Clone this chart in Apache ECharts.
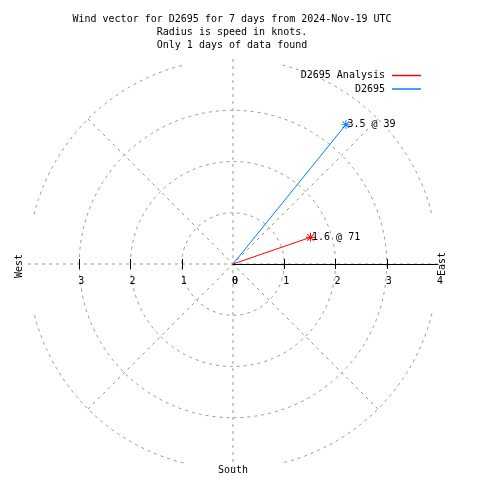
<!DOCTYPE html>
<html>
<head>
<meta charset="utf-8">
<script src="https://cdn.jsdelivr.net/npm/echarts@6/dist/echarts.min.js"></script>
<style>
html,body{margin:0;padding:0;background:#fff;}
#chart{width:480px;height:480px;}
</style>
</head>
<body>
<div id="chart"></div>
<script>
// ---- data ----
const titleLines = [
  'Wind vector for D2695 for 7 days from 2024-Nov-19 UTC',
  'Radius is speed in knots.',
  'Only 1 days of data found'
];
const seriesNames = ['D2695 Analysis', 'D2695'];
const seriesColors = ['#ff0000', '#0080ff'];
const speeds = [1.6, 3.5];        // knots
const directions = [71, 39];      // degrees from north, clockwise
const eastTickValues = [1, 2, 3];
const eastLabelValues = [0, 1, 2, 3, 4];
const westTickValues = [-3, -2, -1];
const westLabelValues = [-3, -2, -1, 0];
const compassLabels = { west: 'West', east: 'East', south: 'South' };

// ---- layout ----
const CX = 233, CY = 264, R = 205;
const FONT = 'DejaVu Sans Mono';
const gridColor = '#999999';
const dash = [3, 4];
const star = 'path://M0,4.5H10V5.5H0Z M4.5,0H5.5V10H4.5Z M1,1.7L1.7,1L9,8.3L8.3,9Z M9,1.7L1.7,9L1,8.3L8.3,1Z';

const series = seriesNames.map((name, i) => ({
  name: name,
  type: 'line',
  coordinateSystem: 'polar',
  polarIndex: 0,
  color: seriesColors[i],
  lineStyle: { width: 1, color: seriesColors[i] },
  symbol: star,
  symbolSize: 9,
  showSymbol: true,
  itemStyle: { color: seriesColors[i] },
  z: 5,
  data: [
    { value: [0, directions[i]], symbol: 'none', label: { show: false } },
    {
      value: [speeds[i], directions[i]],
      label: {
        show: true,
        position: 'right',
        distance: -3,
        formatter: speeds[i] + ' @ ' + directions[i],
        fontFamily: FONT,
        fontSize: 10,
        color: '#000'
      }
    }
  ]
}));

// outer ring drawn as partial arcs (gnuplot clips it near the axes)
const outerArcs = [0, 1, 2, 3].map(k => ({
  type: 'arc',
  silent: true,
  z: 1,
  shape: { cx: CX, cy: CY, r: R, startAngle: (k * 90 + 14) * Math.PI / 180, endAngle: (k * 90 + 76) * Math.PI / 180, clockwise: true },
  style: { stroke: gridColor, lineWidth: 1, lineDash: dash, fill: null }
}));

const chart = echarts.init(document.getElementById('chart'), null, { renderer: 'canvas' });
chart.setOption({
  animation: false,
  backgroundColor: '#fff',
  title: {
    text: titleLines.join('\n'),
    left: 232,
    top: 13,
    textAlign: 'center',
    padding: 0,
    textStyle: { fontFamily: FONT, fontSize: 10, fontWeight: 'normal', color: '#000', lineHeight: 13 }
  },
  legend: {
    data: seriesNames,
    orient: 'vertical',
    right: 59,
    top: 69,
    align: 'right',
    icon: 'rect',
    itemWidth: 29,
    itemHeight: 1.5,
    itemGap: 0.5,
    padding: 0,
    selectedMode: false,
    textStyle: { fontFamily: FONT, fontSize: 10, color: '#000', lineHeight: 13, padding: [0, 2, 0, 0] }
  },
  polar: { center: [CX, CY], radius: R },
  angleAxis: {
    type: 'value',
    min: 0, max: 360, interval: 45,
    startAngle: 90,
    clockwise: true,
    axisLine: { show: false },
    axisTick: { show: false },
    axisLabel: { show: false },
    splitLine: { show: true, lineStyle: { color: gridColor, type: dash, width: 1 } }
  },
  radiusAxis: {
    type: 'value',
    min: 0, max: 4, interval: 1,
    axisLine: { show: false },
    axisTick: { show: false },
    axisLabel: { show: false },
    splitLine: { show: true, lineStyle: { color: [gridColor, gridColor, gridColor, gridColor, 'rgba(0,0,0,0)'], type: dash, width: 1 } }
  },
  grid: [
    { left: CX, width: R, top: CY, height: 0, containLabel: false },
    { left: CX - R, width: R, top: CY, height: 0, containLabel: false }
  ],
  xAxis: [
    {
      gridIndex: 0, type: 'value', min: 0, max: 4, position: 'bottom', z: 6,
      axisLine: { show: true, lineStyle: { color: '#000', width: 1 } },
      axisTick: { show: true, length: 5, customValues: eastTickValues, lineStyle: { color: '#000' } },
      axisLabel: { show: true, customValues: eastLabelValues, margin: 12, fontFamily: FONT, fontSize: 10, color: '#000', padding: [0, 0, 0, 4] },
      splitLine: { show: false }
    },
    {
      gridIndex: 0, type: 'value', min: 0, max: 4, position: 'top', z: 6,
      axisLine: { show: false },
      axisTick: { show: true, length: 5, customValues: eastTickValues, lineStyle: { color: '#000' } },
      axisLabel: { show: false },
      splitLine: { show: false }
    },
    {
      gridIndex: 1, type: 'value', min: -4, max: 0, position: 'bottom', z: 6,
      axisLine: { show: false },
      axisTick: { show: true, length: 5, customValues: westTickValues, lineStyle: { color: '#000' } },
      axisLabel: { show: true, customValues: westLabelValues, margin: 12, fontFamily: FONT, fontSize: 10, color: '#000', padding: [0, 0, 0, 4], formatter: v => String(Math.abs(v)) },
      splitLine: { show: false }
    },
    {
      gridIndex: 1, type: 'value', min: -4, max: 0, position: 'top', z: 6,
      axisLine: { show: false },
      axisTick: { show: true, length: 5, customValues: westTickValues, lineStyle: { color: '#000' } },
      axisLabel: { show: false },
      splitLine: { show: false }
    }
  ],
  yAxis: [
    { gridIndex: 0, type: 'value', show: false },
    { gridIndex: 1, type: 'value', show: false }
  ],
  graphic: outerArcs.concat([
    { type: 'text', x: 19, y: 266, rotation: Math.PI / 2,
      style: { text: compassLabels.west, font: '10px ' + FONT, fill: '#000', textAlign: 'center', textVerticalAlign: 'middle' } },
    { type: 'text', x: 442, y: 264, rotation: Math.PI / 2,
      style: { text: compassLabels.east, font: '10px ' + FONT, fill: '#000', textAlign: 'center', textVerticalAlign: 'middle' } },
    { type: 'text', x: 233, y: 470,
      style: { text: compassLabels.south, font: '10px ' + FONT, fill: '#000', textAlign: 'center', textVerticalAlign: 'middle' } }
  ]),
  series: series
});
</script>
</body>
</html>
